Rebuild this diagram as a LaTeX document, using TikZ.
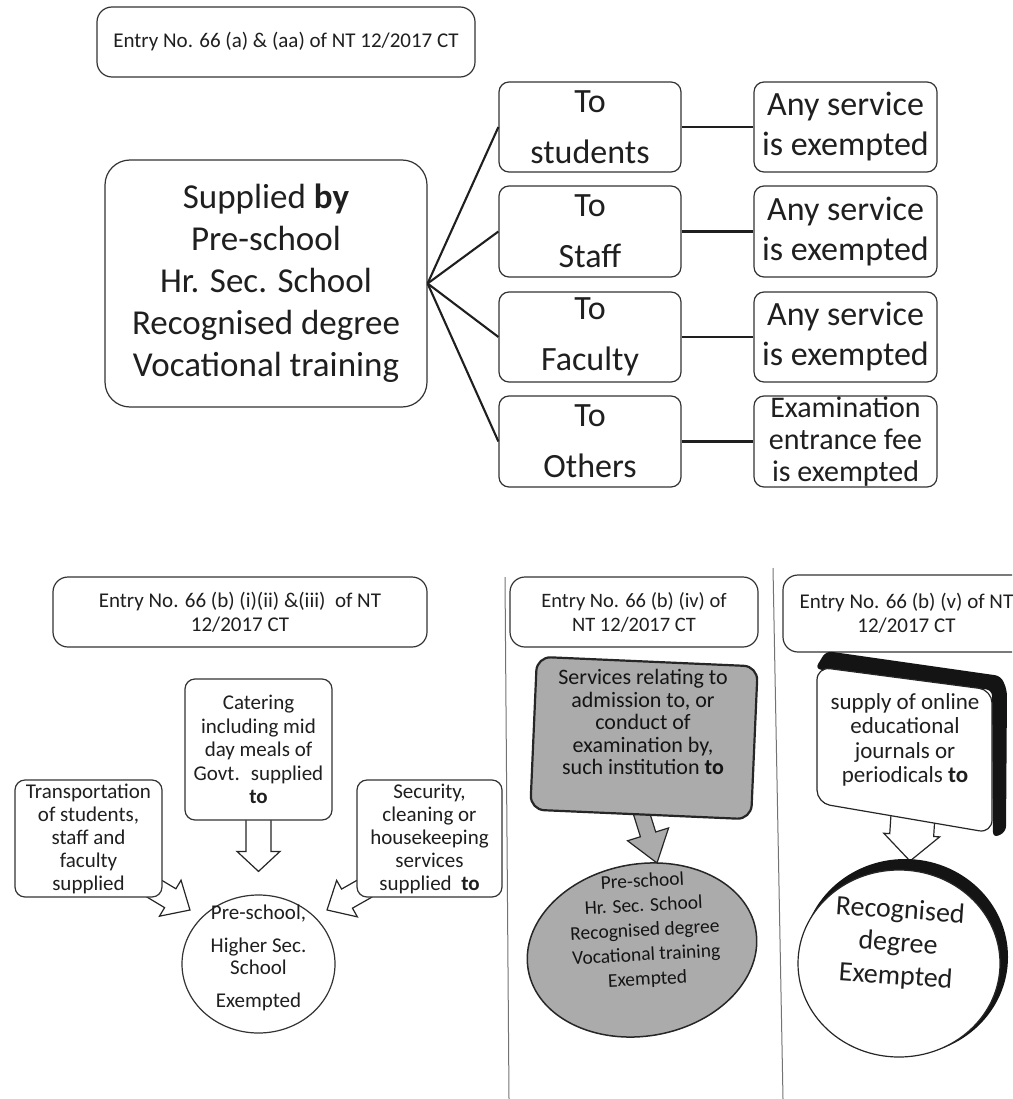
\documentclass[tikz,border=0pt]{standalone}
\usepackage{fontspec}
\setmainfont{Carlito}
\usetikzlibrary{calc,shapes.geometric}
\pgfdeclarelayer{bg}
\pgfsetlayers{bg,main}
% block arrow: #1 style, #2 from, #3 to, #4 shaft half width, #5 head half width, #6 head length
\newcommand\blockarrow[6]{%
  \pgfmathanglebetweenpoints{\pgfpointanchor{#2}{center}}{\pgfpointanchor{#3}{center}}%
  \let\baang\pgfmathresult
  \pgfpointdiff{\pgfpointanchor{#2}{center}}{\pgfpointanchor{#3}{center}}%
  \pgfgetlastxy{\bax}{\bay}%
  \pgfmathveclen{\bax}{\bay}\let\balen\pgfmathresult
  \draw[#1, shift={(#2)}, rotate=\baang]
    (0pt,-#4pt) -- ({\balen pt-#6pt},-#4pt) -- ({\balen pt-#6pt},-#5pt) -- ({\balen pt},0pt)
    -- ({\balen pt-#6pt},#5pt) -- ({\balen pt-#6pt},#4pt) -- (0pt,#4pt) -- cycle;
}
\begin{document}
\begin{tikzpicture}[x=1pt,y=-1pt,
  box/.style={draw=black!80, line width=1.2pt, fill=white, rounded corners=#1,
    inner sep=0pt, align=center, text=black!88},
  box/.default=10pt,
  conn/.style={draw=black!88, line width=2.1pt},
  fs/.style n args={2}{font=\fontsize{#1}{#2}\selectfont},
  sep/.style={draw=black!55, line width=1pt},
  arr/.style={draw=black!85, line width=1.2pt, fill=white, line join=miter},
  txt/.style={align=center, text=black!88, inner sep=0pt}]
\useasboundingbox (0,0) rectangle (1012,1099);
\begin{scope}
\clip (0,0) rectangle (1012,1099);

% ---------------- top section ----------------
\node[box=15pt, minimum width=378pt, minimum height=70pt, fs={21}{25}] (topentry) at (286,42)
  {Entry No. 66 (a) \& (aa) of NT 12/2017 CT};

\node[box=25pt, minimum width=322pt, minimum height=247pt, fs={35}{42}] (main) at (266,283.5)
  {Supplied \textbf{by}\\Pre-school\\Hr. Sec. School\\Recognised degree\\Vocational training};

\node[box, minimum width=182pt, minimum height=90pt, fs={34}{51}] (to1) at (590,127) {To\\students};
\node[box, minimum width=182pt, minimum height=91pt, fs={34}{51}] (to2) at (590,231.5) {To\\Staff};
\node[box, minimum width=182pt, minimum height=90pt, fs={34}{51}] (to3) at (590,337) {To\\Faculty};
\node[box, minimum width=182pt, minimum height=91pt, fs={34}{51}] (to4) at (590,441.5) {To\\Others};

\node[box, minimum width=183pt, minimum height=90pt, fs={34}{40}] (ex1) at (845.5,127) {Any service\\is exempted};
\node[box, minimum width=183pt, minimum height=91pt, fs={34}{40}] (ex2) at (845.5,231.5) {Any service\\is exempted};
\node[box, minimum width=183pt, minimum height=90pt, fs={34}{40}] (ex3) at (845.5,337) {Any service\\is exempted};
\node[box, minimum width=183pt, minimum height=91pt, fs={30}{32}] (ex4) at (845.5,441.5) {Examination\\entrance fee\\is exempted};

\foreach \i in {1,2,3,4}{
  \draw[conn] (main.east) -- (to\i.west);
  \draw[conn] (to\i.east) -- (ex\i.west);
}

% ---------------- separators ----------------
\coordinate (s1a) at (505,577);
\coordinate (s1b) at (509,1099);
\coordinate (s2a) at (773,568);
\coordinate (s2b) at (783,1099);
\draw[sep] (s1a) -- (s1b);
\draw[sep] (s2a) -- (s2b);

% ---------------- bottom left ----------------
\node[box=15pt, minimum width=374pt, minimum height=70pt, fs={21}{24}] (bentry) at (240,612)
  {Entry No. 66 (b) (i)(ii) \&(iii)~ of NT\\12/2017 CT};

\node[box, minimum width=147pt, minimum height=141pt, fs={21}{23.5}] (catering) at (258.5,749.5)
  {Catering\\including mid\\day meals of\\Govt.~ supplied\\\textbf{to}};
\node[box, minimum width=147pt, minimum height=117pt, fs={21}{23}] (transport) at (88.5,838.5)
  {Transportation\\of students,\\staff and\\faculty\\supplied};
\node[box, minimum width=145pt, minimum height=117pt, fs={21}{23}] (security) at (429.5,838.5)
  {Security,\\cleaning or\\housekeeping\\services\\supplied~ \textbf{to}};

\node[ellipse, draw=black!80, line width=1.2pt, fill=white, minimum width=153pt, minimum height=138pt, inner sep=0pt] (circ) at (258.5,964) {};
\node[txt, fs={21}{22}] (circtxt) at (258.5,957.5)
  {Pre-school,\\[11pt]Higher Sec.\\School\\[11pt]Exempted};

\coordinate (cattip) at ($(circ.north)+(0,-23)$);
\coordinate (catfrom) at ($(catering.south)+(0,-3)$);
\coordinate (ltip) at ($(circ.center)+(-68.5,-54)$);
\coordinate (lfrom) at ($(transport.south east)+(-10,-10)$);
\coordinate (rtip) at ($(circ.center)+(68.5,-54)$);
\coordinate (rfrom) at ($(security.south west)+(10,-10)$);

% ---------------- bottom middle ----------------
\node[box=15pt, minimum width=248pt, minimum height=70pt, fs={20.5}{24}] (mentry) at (634,612)
  {Entry No. 66 (b) (iv) of\\NT 12/2017 CT};

\node[draw=black!85, line width=2.2pt, fill=black!33, rounded corners=14pt, minimum width=221pt,
  minimum height=153pt, rotate=-2.5] (greybox) at (644,738) {};
\node[txt, fs={22}{22.5}, text=black!92] (greytxt) at (643,722)
  {Services relating to\\admission to, or\\conduct of\\examination by,\\such institution \textbf{to}};

\node[ellipse, draw=black!85, line width=1.5pt, fill=black!33, minimum width=231pt, minimum height=172pt,
  inner sep=0pt, rotate=10] (gell) at (642,950) {};
\node[txt, fs={19.5}{24.5}, rotate=3, text=black!92] (gelltxt) at (645,931)
  {Pre-school\\Hr. Sec. School\\Recognised degree\\Vocational training\\Exempted};

\coordinate (gfrom) at ($(greybox.south)+(0,-5)$);
\coordinate (gtip) at (657,863);

% ---------------- bottom right ----------------
\node[box=15pt, minimum width=247pt, minimum height=77pt, fs={21}{24}] (rentry) at (906.5,613.5)
  {Entry No. 66 (b) (v) of NT\\12/2017 CT};

\fill[black!92, rounded corners=6pt] (815,669) -- (826,651) -- (1001,676) -- (1007,690) -- (1006,832) -- (993,838) -- (992,690) -- cycle;
\draw[draw=black!85, line width=1.2pt, fill=white, rounded corners=13pt] (817,667) -- (992,690) -- (992,833) -- (817,803) -- cycle;
\node[txt, fs={23}{24.5}] (vtxt) at (905,740)
  {supply of online\\educational\\journals or\\periodicals \textbf{to}};

\node[ellipse, fill=black!92, minimum width=206pt, minimum height=196pt, inner sep=0pt] (vshadow) at (905,957) {};
\node[ellipse, draw=black!85, line width=1.2pt, fill=white, minimum width=202pt, minimum height=187pt, inner sep=0pt] (vcirc) at (899,963.5) {};
\node[txt, fs={28}{33}, rotate=-4] (vctxt) at (898,944)
  {Recognised\\degree\\Exempted};

\coordinate (vfrom) at (913,815);
\coordinate (vtip) at (910,861);

% ---------------- block arrows (behind) ----------------
\begin{pgfonlayer}{bg}
  \blockarrow{arr}{catfrom}{cattip}{12.5}{21.5}{20}
  \blockarrow{arr}{lfrom}{ltip}{11}{21}{23}
  \blockarrow{arr}{rfrom}{rtip}{11}{21}{23}
  \blockarrow{draw=black!85, line width=1.2pt, fill=black!33}{gfrom}{gtip}{8}{21.5}{30}
  \blockarrow{arr}{vfrom}{vtip}{22}{28}{26}
\end{pgfonlayer}
\end{scope}
\end{tikzpicture}
\end{document}
